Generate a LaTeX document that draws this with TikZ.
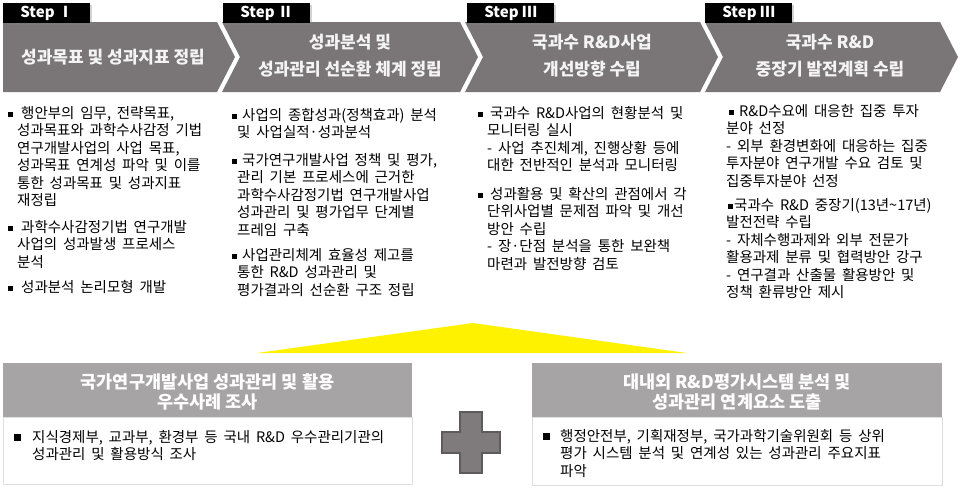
\documentclass[tikz,border=0pt]{standalone}
\usepackage{fontspec}
\setmainfont{Noto Sans CJK KR}
\usetikzlibrary{shadows}
\definecolor{chevgray}{HTML}{7A7677}
\definecolor{chevtext}{HTML}{F4F4F4}
\definecolor{hdrgray}{HTML}{A7A4A5}
\definecolor{crossgray}{HTML}{7F7B7C}
\definecolor{crossedge}{HTML}{5E5B5C}
\definecolor{boxedge}{HTML}{DEDEDE}
\begin{document}
\begin{tikzpicture}[x=1pt,y=-1pt,
  chev/.style={fill=chevgray},
  steplbl/.style={fill=black,text=white,font=\bfseries\fontsize{15}{15}\selectfont,minimum width=87pt,minimum height=20pt,inner sep=0pt,anchor=north west,drop shadow={shadow xshift=2pt,shadow yshift=-2pt,opacity=.35}},
  chevtxt/.style={text=chevtext,font=\bfseries\fontsize{17}{27}\selectfont,align=center},
  itemtxt/.style={anchor=north west,inner sep=0pt,align=left,font={\fontsize{14.5}{17.5}\selectfont\spaceskip=.4em plus .1em\relax}},
  sq/.style={fill=black,inner sep=0pt,minimum size=5pt},
  bigsq/.style={fill=black,inner sep=0pt,minimum size=7pt},
  hdr/.style={fill=hdrgray},
  hdrtxt/.style={text=white,font=\bfseries\fontsize{17.5}{19.5}\selectfont,align=center},
  panel/.style={draw=boxedge,fill=white}]
\useasboundingbox (0,0) rectangle (960,488);
\fill [chev] (3,22) -- (217,22) -- (235,57) -- (217,92) -- (3,92) -- cycle;
\fill [chev] (222,22) -- (460,22) -- (478,57) -- (460,92) -- (222,92) -- (240,57) -- cycle;
\fill [chev] (465,22) -- (700,22) -- (718,57) -- (700,92) -- (465,92) -- (483,57) -- cycle;
\fill [chev] (705,22) -- (940,22) -- (958,57) -- (940,92) -- (705,92) -- (723,57) -- cycle;
\node (s1) [steplbl] at (3,3) {Step Ⅰ};
\node (s2) [steplbl] at (223,3) {Step Ⅱ};
\node (s3) [steplbl] at (467,3) {Step Ⅲ};
\node (s4) [steplbl] at (705,3) {Step Ⅲ};
\node (c1) [chevtxt] at (113,57) {성과목표 및 성과지표 정립};
\node (c2) [chevtxt] at (350,56) {성과분석 및\\성과관리 선순환 체계 정립};
\node (c3) [chevtxt] at (592,56) {국과수 R\&D사업\\개선방향 수립};
\node (c4) [chevtxt] at (830,56) {국과수 R\&D\\중장기 발전계획 수립};
\node (b11) [sq] at (10.5,114) {};
\node (t11) [itemtxt] at (17,106) {\hspace*{4pt}행안부의 임무, 전략목표,\\성과목표와 과학수사감정 기법\\연구개발사업의 사업 목표,\\성과목표 연계성 파악 및 이를\\통한 성과목표 및 성과지표\\재정립};
\node (b12) [sq] at (10.5,228) {};
\node (t12) [itemtxt] at (17,220) {\hspace*{4pt}과학수사감정기법 연구개발\\사업의 성과발생 프로세스\\분석};
\node (b13) [sq] at (10.5,288) {};
\node (t13) [itemtxt] at (17,280) {\hspace*{4pt}성과분석 논리모형 개발};
\node (b21) [sq] at (234.5,116) {};
\node (t21) [itemtxt] at (237,108) {\hspace*{5pt}사업의 종합성과(정책효과) 분석\\및 사업실적·성과분석};
\node (b22) [sq] at (234.5,161) {};
\node (t22) [itemtxt] at (237,153) {\hspace*{5pt}국가연구개발사업 정책 및 평가,\\관리 기본 프로세스에 근거한\\과학수사감정기법 연구개발사업\\성과관리 및 평가업무 단계별\\프레임 구축};
\node (b23) [sq] at (234.5,256) {};
\node (t23) [itemtxt] at (237,248) {\hspace*{5pt}사업관리체계 효율성 제고를\\통한 R\&D 성과관리 및\\평가결과의 선순환 구조 정립};
\node (b31) [sq] at (480.5,114) {};
\node (t31) [itemtxt] at (487,106) {\hspace*{3pt}국과수 R\&D사업의 현황분석 및\\모니터링 실시\\- 사업 추진체계, 진행상황 등에\\대한 전반적인 분석과 모니터링};
\node (b32) [sq] at (480.5,195) {};
\node (t32) [itemtxt] at (487,187) {\hspace*{3pt}성과활용 및 확산의 관점에서 각\\단위사업별 문제점 파악 및 개선\\방안 수립\\- 장·단점 분석을 통한 보완책\\마련과 발전방향 검토};
\node (b41) [sq] at (731.5,112) {};
\node (t41) [itemtxt] at (726,104) {\hspace*{13pt}R\&D수요에 대응한 집중 투자\\분야 선정\\- 외부 환경변화에 대응하는 집중\\투자분야 연구개발 수요 검토 및\\집중투자분야 선정};
\node (b42) [sq] at (730.5,206) {};
\node (t42) [itemtxt] at (726,198) {\hspace*{8pt}국과수 R\&D 중장기(13년\textasciitilde17년)\\발전전략 수립\\- 자체수행과제와 외부 전문가\\활용과제 분류 및 협력방안 강구\\- 연구결과 산출물 활용방안 및\\정책 환류방안 제시};
\fill [yellow] (257,353) -- (473,323) -- (687,353) -- cycle;
\fill [hdr] (3,363) rectangle (412,417);
\draw [panel] (3,417) rectangle (412,484);
\node (h1) [hdrtxt] at (207.5,392) {국가연구개발사업 성과관리 및 활용\\우수사례 조사};
\node (p1) [bigsq] at (17,437) {};
\node (q1) [itemtxt] at (32,430) {지식경제부, 교과부, 환경부 등 국내 R\&D 우수관리기관의\\성과관리 및 활용방식 조사};
\fill [hdr] (532,363) rectangle (942,417);
\draw [panel] (532,417) rectangle (942,485);
\node (h2) [hdrtxt] at (737,392) {대내외 R\&D평가시스템 분석 및\\성과관리 연계요소 도출};
\node (p2) [bigsq] at (546,436) {};
\node (q2) [itemtxt] at (560,429) {행정안전부, 기획재정부, 국가과학기술위원회 등 상위\\평가 시스템 분석 및 연계성 있는 성과관리 주요지표\\파악};
\filldraw [fill=crossgray,draw=crossedge,line width=1.5pt] (460,412) -- (482,412) -- (482,432) -- (500,432) -- (500,453) -- (482,453) -- (482,473) -- (460,473) -- (460,453) -- (442,453) -- (442,432) -- (460,432) -- cycle;
\end{tikzpicture}
\end{document}
